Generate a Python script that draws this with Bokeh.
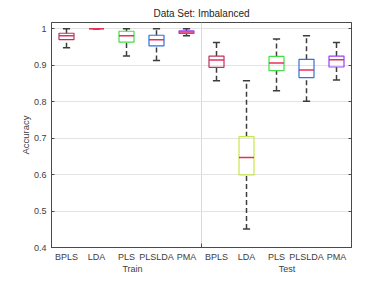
from bokeh.plotting import figure
from bokeh.models import ColumnDataSource, FixedTicker, LinearAxis, Range1d
from bokeh.embed import file_html
from bokeh.resources import INLINE

methods = ["BPLS", "LDA", "PLS", "PLSLDA", "PMA"]
groups = ["Train", "Test"]

train_lo = [0.948, 1.000, 0.925, 0.913, 0.981]
train_q1 = [0.970, 1.000, 0.963, 0.953, 0.987]
train_med = [0.981, 1.000, 0.981, 0.970, 0.991]
train_q3 = [0.9875, 1.000, 0.993, 0.982, 0.994]
train_hi = [1.000, 1.000, 1.000, 1.000, 1.000]

test_lo = [0.857, 0.451, 0.830, 0.801, 0.859]
test_q1 = [0.894, 0.599, 0.885, 0.866, 0.895]
test_med = [0.914, 0.647, 0.906, 0.887, 0.915]
test_q3 = [0.925, 0.704, 0.924, 0.916, 0.925]
test_hi = [0.962, 0.857, 0.972, 0.981, 0.962]

box_colors_train = ["#C0305F", "#E8306A", "#44DD44", "#3370DD", "#9B40F0"]
box_colors_test = ["#C0305F", "#C6E84A", "#44DD44", "#3370DD", "#9B40F0"]
median_color = "#E8305A"

pos = list(range(1, 11))
labels = methods + methods
lo = train_lo + test_lo
q1 = train_q1 + test_q1
med = train_med + test_med
q3 = train_q3 + test_q3
hi = train_hi + test_hi
colors = box_colors_train + box_colors_test

cap_half = 0.12
src = ColumnDataSource(dict(
    x=pos, lo=lo, q1=q1, med=med, q3=q3, hi=hi, color=colors,
    x0=[x - cap_half for x in pos], x1=[x + cap_half for x in pos],
    bx0=[x - 0.25 for x in pos], bx1=[x + 0.25 for x in pos],
))

p = figure(width=381, height=284, output_backend="svg", toolbar_location=None,
           x_range=Range1d(0.5, 10.5), y_range=Range1d(0.4, 1.017),
           min_border_left=51, min_border_right=30, min_border_top=22,
           min_border_bottom=37, title="Data Set: Imbalanced")
p.title.align = "center"
p.title.text_font = "Liberation Sans"
p.title.text_font_size = "10px"
p.title.text_font_style = "normal"
p.title.text_color = "#262626"
p.title.standoff = 7

axis_color = "#4a4a4a"
label_color = "#404040"

# y axis
p.yaxis.ticker = FixedTicker(ticks=[0.4, 0.5, 0.6, 0.7, 0.8, 0.9, 1.0])
p.yaxis.major_label_overrides = {1.0: "1"}
p.yaxis.axis_label = "Accuracy"
p.yaxis.axis_label_text_font = "Liberation Sans"
p.yaxis.axis_label_text_font_size = "9.5px"
p.yaxis.axis_label_text_font_style = "normal"
p.yaxis.axis_label_text_color = label_color
p.yaxis.axis_label_standoff = 0
p.yaxis.major_label_text_font = "Liberation Sans"
p.yaxis.major_label_text_font_size = "9px"
p.yaxis.major_label_text_color = label_color
p.yaxis.major_label_standoff = 5
p.yaxis.major_tick_in = 3
p.yaxis.major_tick_out = 0
p.yaxis.minor_tick_line_color = None
p.yaxis.axis_line_color = axis_color
p.yaxis.major_tick_line_color = axis_color

# x axis: method labels
p.xaxis.ticker = FixedTicker(ticks=pos, minor_ticks=[5.5])
p.xaxis.major_label_overrides = {x: l for x, l in zip(pos, labels)}
p.xaxis.major_label_text_font = "Liberation Sans"
p.xaxis.major_label_text_font_size = "9px"
p.xaxis.major_label_text_color = label_color
p.xaxis.major_label_standoff = -2
p.xaxis.major_tick_line_color = None
p.xaxis.minor_tick_in = 4
p.xaxis.minor_tick_out = 0
p.xaxis.minor_tick_line_color = axis_color
p.xaxis.axis_line_color = axis_color

# group labels axis
gax = LinearAxis(ticker=FixedTicker(ticks=[3.2, 8.35]),
                 major_label_overrides={3.2: groups[0], 8.35: groups[1]},
                 axis_line_color=None, major_tick_line_color=None,
                 minor_tick_line_color=None,
                 major_label_text_font="Liberation Sans",
                 major_label_text_font_size="9px",
                 major_label_text_color=label_color,
                 major_label_standoff=-7)
p.add_layout(gax, "below")

# right axis (ticks only)
rax = LinearAxis(ticker=FixedTicker(ticks=[0.4, 0.5, 0.6, 0.7, 0.8, 0.9, 1.0]),
                 major_tick_in=3, major_tick_out=0, minor_tick_line_color=None,
                 major_label_text_color=None, axis_line_color=axis_color,
                 major_tick_line_color=axis_color)
p.add_layout(rax, "right")

p.outline_line_color = axis_color
p.outline_line_alpha = 1

p.ygrid.ticker = FixedTicker(ticks=[0.5, 0.6, 0.7, 0.8, 0.9, 1.0])
p.ygrid.grid_line_color = "#e3e3e3"
p.xgrid.ticker = FixedTicker(ticks=[5.5])
p.xgrid.grid_line_color = "#d8d8d8"

p.background_fill_color = "white"
p.border_fill_color = "white"

whisk = "#3c3c3c"
p.segment(x0="x", y0="q3", x1="x", y1="hi", source=src, line_color=whisk,
          line_width=1.5, line_dash="5 3")
p.segment(x0="x", y0="lo", x1="x", y1="q1", source=src, line_color=whisk,
          line_width=1.5, line_dash="5 3")
p.segment(x0="x0", y0="hi", x1="x1", y1="hi", source=src, line_color=whisk, line_width=1.5)
p.segment(x0="x0", y0="lo", x1="x1", y1="lo", source=src, line_color=whisk, line_width=1.5)
p.quad(left="bx0", right="bx1", bottom="q1", top="q3", source=src,
       fill_color=None, line_color="color", line_width=1.2)
p.segment(x0="bx0", y0="med", x1="bx1", y1="med", source=src,
          line_color=median_color, line_width=1.5)

open("out.html", "w").write(file_html(p, INLINE))
